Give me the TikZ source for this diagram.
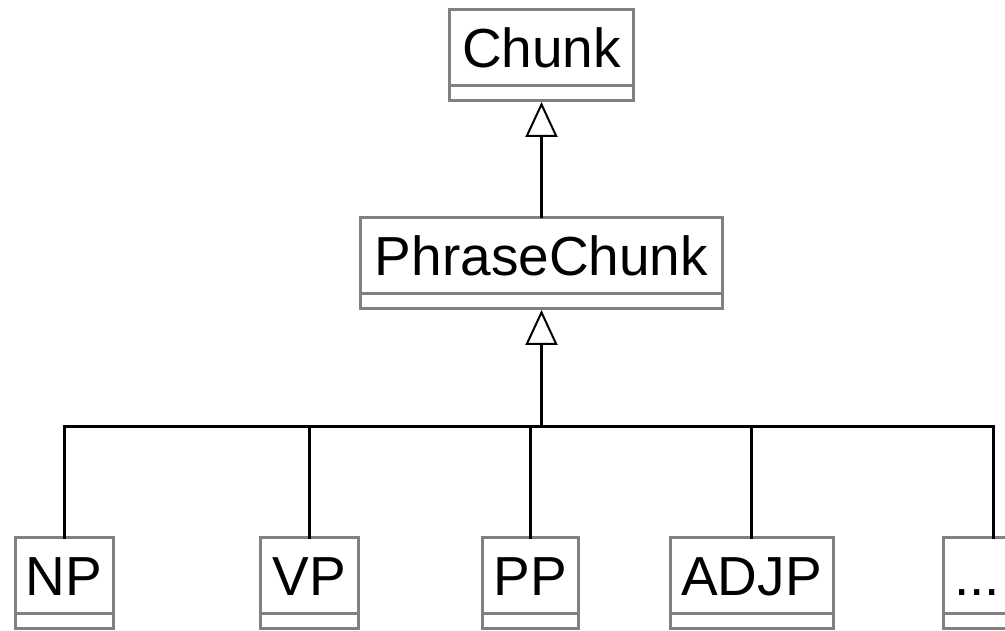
\documentclass[tikz,border=0pt]{standalone}
\usepackage{fontspec}
\setmainfont{Liberation Sans}
\usetikzlibrary{arrows.meta,positioning}
\newcommand{\moredots}{\makebox[78pt][l]{...}}

\begin{document}
\begin{tikzpicture}
[x=1pt,y=1pt,%
  classBox/.style={shape=rectangle,draw=gray,line width=3pt,outer sep=0pt,inner xsep=10pt,%
    minimum height=76pt,text height=40pt,text depth=0pt,font=\fontsize{55}{60}\selectfont},%
  opsBox/.style={shape=rectangle,draw=gray,line width=3pt,outer sep=0pt,minimum height=15pt,inner sep=0pt},%
  connLine/.style={line width=3pt,line cap=rect},%
  genArrow/.style={line width=3pt,-{Triangle[open,length=35pt,width=32pt,line width=2pt,fill=white]},shorten >=1pt}]
\useasboundingbox (0,0) rectangle (1005,630);
%% class boxes with their empty compartment
\foreach \nodename/\x/\y/\w/\txt in {chunk/541.5/582/184/Chunk, phrase/541.5/374/362/PhraseChunk,
  np/64/54.5/98/NP, vp/309/54.5/98/VP, pp/530/54.5/96/PP, adjp/751.5/54.5/163/ADJP, more/993/54.5/100/\moredots}
{
  \node (\nodename) at (\x,\y) [classBox,minimum width=\w pt] {\txt};
  \node (\nodename-ops) [opsBox,minimum width=\w pt,below=0pt of \nodename] {};
}
%% bus of the generalisation
\coordinate (bus) at (541.5,203);
\draw[genArrow] (phrase.north) -- (chunk-ops.south);
\draw[genArrow] (bus) -- (phrase-ops.south);
\foreach \nodename in {np, vp, pp, adjp, more}
{
  \draw[connLine] (\nodename.north) |- (bus);
}
\end{tikzpicture}
\end{document}
